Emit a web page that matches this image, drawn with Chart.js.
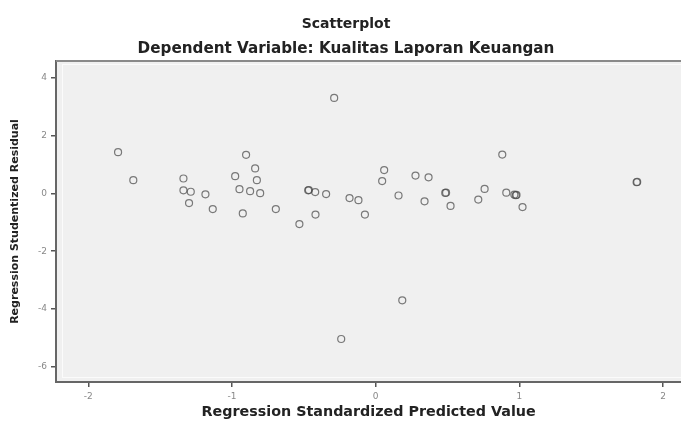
<!DOCTYPE html>
<html>
<head>
<meta charset="utf-8">
<script src="https://cdn.jsdelivr.net/npm/chart.js@4.4.1/dist/chart.umd.min.js"></script>
<style>
  html, body { margin: 0; padding: 0; background: #fff; overflow: hidden; }
  #wrap { width: 681px; height: 421px; overflow: hidden; }
</style>
</head>
<body>
<div id="wrap"><canvas id="myChart" width="686" height="421"></canvas></div>
<script>
const predicted = [
    -1.793, -1.687, -1.338, -1.338, -1.287, -1.299, -1.185, -1.134,
    -0.978, -0.902, -0.839, -0.827, -0.948, -0.874, -0.804, -0.925,
    -0.695, -0.531, -0.470, -0.465, -0.421, -0.345, -0.419, -0.182,
    -0.120, -0.075, -0.289, -0.240,
    0.059, 0.045, 0.159, 0.277, 0.368, 0.340, 0.484, 0.490,
    0.521, 0.881, 0.758, 0.714, 0.909, 0.965, 0.975, 0.980,
    1.022, 1.816, 1.820, 0.185
];
const residual = [
    1.43, 0.46, 0.52, 0.11, 0.06, -0.33, -0.03, -0.54,
    0.60, 1.34, 0.87, 0.46, 0.15, 0.08, 0.01, -0.69,
    -0.54, -1.06, 0.11, 0.12, 0.05, -0.02, -0.73, -0.16,
    -0.23, -0.73, 3.31, -5.04,
    0.81, 0.43, -0.07, 0.62, 0.56, -0.27, 0.02, 0.03,
    -0.43, 1.35, 0.16, -0.21, 0.03, -0.04, -0.06, -0.05,
    -0.47, 0.39, 0.40, -3.70
];
const xTicks = [-2, -1, 0, 1, 2];
const yTicks = [-6, -4, -2, 0, 2, 4];

const chartTitle = "Scatterplot";
const chartSubtitle = "Dependent Variable: Kualitas Laporan Keuangan";
const xTitle = "Regression Standardized Predicted Value";
const yTitle = "Regression Studentized Residual";

const points = predicted.map((x, i) => ({ x: x, y: residual[i] }));

// grey plot background + top frame line, titles drawn above
const spssFrame = {
    id: 'spssFrame',
    beforeDraw(chart) {
        const { ctx, chartArea: a } = chart;
        ctx.save();
        ctx.fillStyle = '#f0f0f0';
        ctx.fillRect(a.left, a.top, a.right - a.left, a.bottom - a.top);
        ctx.strokeStyle = 'rgba(255,255,255,0.7)';
        ctx.lineWidth = 1;
        ctx.strokeRect(a.left + 6.5, a.top + 3.5, a.right - a.left - 6, a.bottom - a.top - 8);
        ctx.restore();
    },
    afterDraw(chart) {
        const { ctx, chartArea: a } = chart;
        ctx.save();
        ctx.strokeStyle = '#8a8a8a';
        ctx.lineWidth = 2;
        ctx.beginPath();
        ctx.moveTo(a.left, a.top);
        ctx.lineTo(a.right, a.top);
        ctx.stroke();
        ctx.fillStyle = '#222';
        ctx.textAlign = 'center';
        ctx.textBaseline = 'middle';
        ctx.font = 'bold 14px "DejaVu Sans"';
        ctx.fillText(chartTitle, 346, 24);
        ctx.font = 'bold 15.2px "DejaVu Sans"';
        ctx.fillText(chartSubtitle, 346, 49);
        ctx.restore();
    }
};

const config = {
    type: 'scatter',
    data: {
        datasets: [{
            label: 'Residual',
            data: points,
            pointStyle: 'circle',
            pointRadius: 3.5,
            pointHoverRadius: 3.5,
            backgroundColor: 'rgba(0,0,0,0)',
            borderColor: 'rgba(70,70,70,0.7)',
            borderWidth: 1.2
        }]
    },
    options: {
        responsive: false,
        animation: false,
        events: [],
        layout: { padding: { top: 61, left: 0, right: 0, bottom: 0 } },
        plugins: {
            legend: { display: false },
            tooltip: { enabled: false }
        },
        scales: {
            x: {
                type: 'linear',
                min: -2.225,
                max: 2.127,
                afterFit(scale) { scale.height = 39; },
                afterBuildTicks(scale) { scale.ticks = xTicks.map(v => ({ value: v })); },
                border: { display: true, color: '#666', width: 2 },
                grid: { drawOnChartArea: false, drawTicks: true, tickLength: 5, color: '#555', lineWidth: 1.5 },
                ticks: {
                    color: '#888',
                    font: { family: 'DejaVu Sans', size: 9 },
                    padding: 4,
                    maxRotation: 0
                },
                title: {
                    display: true,
                    text: xTitle,
                    color: '#222',
                    font: { family: 'DejaVu Sans', size: 14.3, weight: 'bold' },
                    padding: { top: 0, bottom: 0 }
                }
            },
            y: {
                type: 'linear',
                min: -6.53,
                max: 4.59,
                afterFit(scale) { scale.width = 56; },
                afterBuildTicks(scale) { scale.ticks = yTicks.map(v => ({ value: v })); },
                border: { display: true, color: '#666', width: 2 },
                grid: { drawOnChartArea: false, drawTicks: true, tickLength: 5, color: '#555', lineWidth: 1.5 },
                ticks: {
                    color: '#888',
                    font: { family: 'DejaVu Sans', size: 9 },
                    padding: 4
                },
                title: {
                    display: true,
                    text: yTitle,
                    color: '#222',
                    font: { family: 'DejaVu Sans', size: 11, weight: 'bold' },
                    padding: { top: 9, bottom: 0 }
                }
            }
        }
    },
    plugins: [spssFrame]
};

const myChart = new Chart(document.getElementById('myChart'), config);
</script>
</body>
</html>
